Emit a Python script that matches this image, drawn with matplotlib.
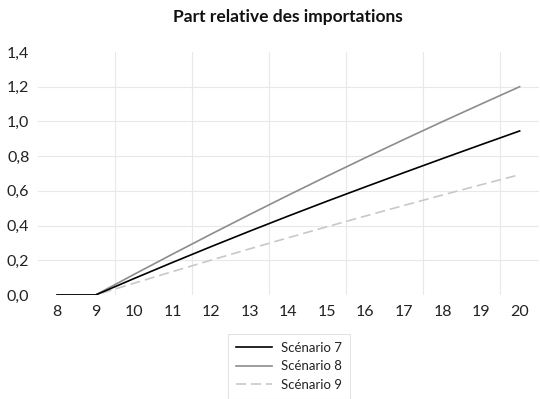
import matplotlib
matplotlib.use("Agg")
import matplotlib.pyplot as plt

years = [8, 9, 10, 11, 12, 13, 14, 15, 16, 17, 18, 19, 20]
scen7 = [0, 0, 0.095, 0.188, 0.279, 0.368, 0.455, 0.54, 0.623, 0.705, 0.786, 0.866, 0.945]
scen8 = [0, 0, 0.119, 0.236, 0.351, 0.464, 0.575, 0.684, 0.791, 0.896, 0.999, 1.10, 1.20]
scen9 = [0, 0, 0.068, 0.135, 0.201, 0.266, 0.330, 0.393, 0.455, 0.516, 0.576, 0.635, 0.693]
yticks = [0, 0.2, 0.4, 0.6, 0.8, 1.0, 1.2, 1.4]
ytick_labels = ["0,0", "0,2", "0,4", "0,6", "0,8", "1,0", "1,2", "1,4"]

plt.rcParams["font.family"] = ["Lato", "DejaVu Sans"]

fig = plt.figure(figsize=(5.4, 3.99), dpi=100)
ax = fig.add_axes([0.070, 0.2607, 0.928, 0.609])

# light grid: horizontal at ticks, vertical between every other category
for v in yticks[1:-1]:
    ax.axhline(v, color="#e8e8e8", linewidth=0.8, zorder=0)
for x in years[1:-1:2]:
    ax.axvline(x + 0.5, color="#e8e8e8", linewidth=0.8, zorder=0)

ax.plot(years, scen7, color="#000000", linewidth=1.2, label="Scénario 7", zorder=3)
ax.plot(years, scen8, color="#8c8c8c", linewidth=1.2, label="Scénario 8", zorder=2)
ax.plot(years, scen9, color="#c8c8c8", linewidth=1.2, dashes=(6, 3), label="Scénario 9", zorder=1)

ax.set_xlim(7.5, 20.5)
ax.set_ylim(0, 1.4)
ax.set_xticks(years)
ax.set_xticklabels([str(y) for y in years])
ax.set_yticks(yticks)
ax.set_yticklabels(ytick_labels)
ax.tick_params(length=0, labelsize=11.5, colors="#222222")
ax.tick_params(axis="x", pad=7)
ax.tick_params(axis="y", pad=6)
for s in ax.spines.values():
    s.set_visible(False)

fig.text(0.533, 0.957, "Part relative des importations", ha="center", va="center",
         fontsize=12.5, fontweight="bold", color="#111111")

leg = fig.legend(loc="upper center", bbox_to_anchor=(0.535, 0.18), fontsize=9.5,
                 handlelength=2.7, labelspacing=0.5, frameon=True, fancybox=False,
                 borderpad=0.6, handletextpad=0.7)
leg.get_frame().set_edgecolor("#dddddd")
leg.get_frame().set_linewidth(0.8)
for t in leg.get_texts():
    t.set_color("#222222")

fig.savefig("out.png", dpi=100)
